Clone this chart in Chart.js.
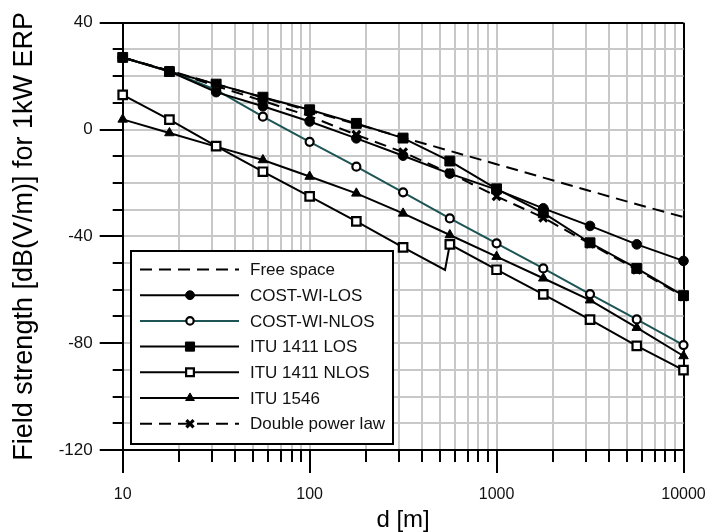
<!DOCTYPE html>
<html>
<head>
<meta charset="utf-8">
<script src="https://cdn.jsdelivr.net/npm/chart.js@4.4.1/dist/chart.umd.min.js"></script>
<style>
    html, body { margin: 0; padding: 0; background: #fff; }
    #wrap { width: 705px; height: 532px; }
</style>
</head>
<body>
<div id="wrap"><canvas id="field-chart" width="705" height="532"></canvas></div>
<script>
// distances where the markers sit (m)
const distances = [10, 17.78, 31.62, 56.23, 100, 177.8, 316.2, 562.3, 1000, 1778, 3162, 5623, 10000];

// field strength, dB(V/m) for 1 kW ERP
const freeSpace = [27, 22, 17, 12, 7, 2, -3, -8, -13, -18, -23, -28, -32.8];
const costWiLos = [27, 21.8, 14, 8.7, 3, -3.3, -9.8, -16.5, -22.5, -29.5, -36.1, -43, -49.2];
const costWiNlos = [27, 21.8, 14.8, 4.8, -4.6, -13.9, -23.5, -33.3, -42.6, -52, -61.6, -71.1, -80.7];
const itu1411Los = [27, 21.7, 17, 12.1, 7.4, 2.3, -3.2, -11.8, -22.2, -31.2, -42.4, -52, -62.2];
// NLOS curve has a saw-tooth just before 562 m
const itu1411NlosDist = [10, 17.78, 31.62, 56.23, 100, 177.8, 316.2, 530, 562.3, 1000, 1778, 3162, 5623, 10000];
const itu1411Nlos = [13, 3.7, -6.2, -15.8, -25, -34.4, -44.1, -52.6, -43, -52.5, -61.7, -71.2, -81, -90.1];
const itu1546 = [3.8, -1.3, -6.4, -11.4, -17.6, -23.9, -31.4, -39.5, -47.6, -55.7, -63.9, -74.2, -84.8];
const doublePowerLaw = [27, 22, 16.3, 10.7, 5, -2, -8.5, -16.3, -25, -33, -42.8, -52.5, -62.5];

const seriesNames = ['Free space', 'COST-WI-LOS', 'COST-WI-NLOS', 'ITU 1411 LOS', 'ITU 1411 NLOS', 'ITU 1546', 'Double power law'];

// axis ticks
const xGrid = [10, 20, 30, 40, 50, 60, 70, 80, 90, 100, 200, 300, 400, 500, 600, 700, 800, 900,
    1000, 2000, 3000, 4000, 5000, 6000, 7000, 8000, 9000, 10000];
const xTickLabels = [10, 100, 1000, 10000];
const yGrid = [-120, -110, -100, -90, -80, -70, -60, -50, -40, -30, -20, -10, 0, 10, 20, 30, 40];
const yTickLabels = [40, 0, -40, -80, -120];

const FONT = "'Liberation Sans', Arial, sans-serif";
const TEAL = '#1d5454';

function toPoints(xs, ys) {
    return xs.map((x, i) => ({ x: x, y: ys[i] }));
}

function series(label, xs, ys, style) {
    return Object.assign({
        label: label,
        data: toPoints(xs, ys),
        borderColor: '#000',
        borderWidth: 2,
        tension: 0,
        clip: false,
        pointBorderColor: '#000',
        pointBackgroundColor: '#000',
        pointBorderWidth: 1,
        pointRadius: 0,
        pointHoverRadius: 0
    }, style);
}

const datasets = [
    series(seriesNames[0], distances, freeSpace, { borderDash: [12, 7] }),
    series(seriesNames[1], distances, costWiLos, { pointStyle: 'circle', pointRadius: 4.8 }),
    series(seriesNames[2], distances, costWiNlos, {
        borderColor: TEAL, pointStyle: 'circle', pointRadius: 4,
        pointBackgroundColor: '#fff', pointBorderWidth: 2.2
    }),
    series(seriesNames[3], distances, itu1411Los, { pointStyle: 'rect', pointRadius: 7 }),
    series(seriesNames[4], itu1411NlosDist, itu1411Nlos, {
        pointStyle: 'rect', pointBackgroundColor: '#fff', pointBorderWidth: 2.2,
        pointRadius: itu1411NlosDist.map(d => distances.includes(d) ? 6 : 0)
    }),
    series(seriesNames[5], distances, itu1546, { pointStyle: 'triangle', pointRadius: 5.5 }),
    series(seriesNames[6], distances, doublePowerLaw, {
        borderDash: [12, 7], pointStyle: 'crossRot', pointRadius: 5.5, pointBorderWidth: 3.2
    })
];

// short/long tick marks outside the frame, like the original
const tickMarks = {
    id: 'tickMarks',
    afterDraw(chart) {
        const { ctx, chartArea } = chart;
        const xs = chart.scales.x, ys = chart.scales.y;
        ctx.save();
        ctx.strokeStyle = '#000';
        ctx.lineWidth = 2;
        ctx.beginPath();
        xGrid.forEach(v => {
            const px = Math.round(xs.getPixelForValue(v));
            const len = xTickLabels.includes(v) ? 23 : 12;
            ctx.moveTo(px, chartArea.bottom);
            ctx.lineTo(px, chartArea.bottom + len);
        });
        yGrid.forEach(v => {
            const py = Math.round(ys.getPixelForValue(v));
            const len = yTickLabels.includes(v) ? 23 : 10;
            ctx.moveTo(chartArea.left, py);
            ctx.lineTo(chartArea.left - len, py);
        });
        ctx.stroke();
        ctx.restore();
    }
};

// boxed legend inside the plot, lower left
const boxLegend = {
    id: 'boxLegend',
    afterDatasetsDraw(chart) {
        const ctx = chart.ctx;
        const box = { x: 131, y: 251, w: 262, h: 193 };
        ctx.save();
        ctx.fillStyle = '#fff';
        ctx.fillRect(box.x, box.y, box.w, box.h);
        ctx.strokeStyle = '#000';
        ctx.lineWidth = 2;
        ctx.strokeRect(box.x, box.y, box.w, box.h);

        ctx.font = '17px ' + FONT;
        ctx.textBaseline = 'middle';
        chart.data.datasets.forEach((ds, i) => {
            const y = 269.5 + i * 25.7;
            ctx.strokeStyle = ds.borderColor;
            ctx.lineWidth = 2;
            ctx.setLineDash(ds.borderDash || []);
            ctx.beginPath();
            ctx.moveTo(140, y);
            ctx.lineTo(239, y);
            ctx.stroke();
            ctx.setLineDash([]);
            if (ds.pointStyle) {
                const r = Array.isArray(ds.pointRadius) ? 5.5 : ds.pointRadius * 0.92;
                ctx.fillStyle = ds.pointBackgroundColor;
                ctx.strokeStyle = ds.pointBorderColor;
                ctx.lineWidth = ds.pointBorderWidth;
                Chart.helpers.drawPoint(ctx, { pointStyle: ds.pointStyle, radius: r, borderWidth: ds.pointBorderWidth, rotation: 0 }, 190, y);
            }
            ctx.fillStyle = '#111';
            ctx.fillText(ds.label, 250, y + 1);
        });
        ctx.restore();
    }
};

const edgeColor = (edges) => (c) => (c.tick && edges.includes(c.tick.value)) ? '#000' : '#c8c8c8';

new Chart(document.getElementById('field-chart'), {
    type: 'line',
    data: { datasets: datasets },
    options: {
        responsive: false,
        animation: false,
        layout: { padding: { left: 0, right: 21.5, top: 22.7, bottom: 0 } },
        plugins: {
            legend: { display: false },
            tooltip: { enabled: false }
        },
        scales: {
            x: {
                type: 'logarithmic',
                position: 'bottom',
                min: 10,
                max: 10000,
                afterBuildTicks: s => { s.ticks = xGrid.map(v => ({ value: v })); },
                afterFit: s => {
                    s.height = 82;
                    s.paddingLeft = 0;
                    s.paddingRight = 0;
                },
                ticks: {
                    autoSkip: false,
                    maxRotation: 0,
                    padding: 35,
                    color: '#111',
                    font: { family: FONT, size: 16 },
                    callback: v => xTickLabels.includes(v) ? String(v) : ''
                },
                grid: { color: edgeColor([10, 10000]), lineWidth: 2, drawTicks: false },
                border: { color: '#000', width: 2 },
                title: {
                    display: true, text: 'd [m]', color: '#000',
                    font: { family: FONT, size: 24, lineHeight: 1 }, padding: 0
                }
            },
            y: {
                type: 'linear',
                min: -120,
                max: 40,
                afterBuildTicks: s => { s.ticks = yGrid.map(v => ({ value: v })); },
                afterFit: s => {
                    s.width = 122.7;
                    s.paddingTop = 0;
                    s.paddingBottom = 0;
                },
                ticks: {
                    autoSkip: false,
                    padding: 30,
                    color: '#111',
                    font: { family: FONT, size: 17 },
                    callback: v => yTickLabels.includes(v) ? String(v) : ''
                },
                grid: { color: edgeColor([-120, 40]), lineWidth: 2, drawTicks: false },
                border: { color: '#000', width: 2 },
                title: {
                    display: true, text: 'Field strength [dB(V/m)] for 1kW ERP', color: '#000',
                    font: { family: FONT, size: 27, lineHeight: 1 }, padding: { top: 11, bottom: 0 }
                }
            }
        }
    },
    plugins: [tickMarks, boxLegend]
});
</script>
</body>
</html>
